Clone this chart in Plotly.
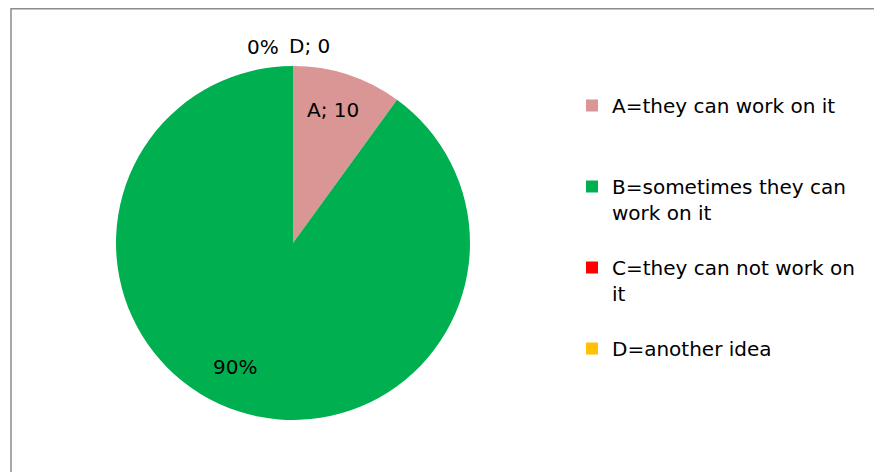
import plotly.graph_objects as go

labels = ["A", "B", "C", "D"]
legend_names = [
    "A=they can work on it",
    "B=sometimes they can<br>work on it",
    "C=they can not work on<br>it",
    "D=another idea",
]
values = [10, 90, 0, 0]
colors = ["#D99694", "#00B050", "#FF0000", "#FFC000"]

# the page body has an 8px margin, so the figure is 8px smaller than the window
OFF = 8
W, H = 882 - OFF, 472 - OFF
FONT = "DejaVu Sans"
total = sum(values)
pct = [round(v * 100 / total) for v in values]


def fx(px_):
    return (px_ - OFF) / W


def fy(py_):
    return 1 - (py_ - OFF) / H


# pad every legend entry to three lines so the entries are evenly spaced
def pad(name):
    n = name.count("<br>") + 1
    return name + "<br> " * (3 - n)


fig = go.Figure(
    go.Pie(
        labels=[pad(n) for n in legend_names],
        values=values,
        marker=dict(colors=colors),
        sort=False,
        direction="clockwise",
        rotation=0,
        textinfo="none",
        hoverinfo="label+value+percent",
        domain=dict(x=[fx(116), fx(470)], y=[fy(420), fy(66)]),
    )
)

# data labels, placed like the original (Excel-style)
label_text = [
    (f"{labels[0]}; {values[0]}", 333, 110),
    (f"{pct[1]}%", 235, 367),
    (f"{pct[3]}%", 263, 47),
    (f"{labels[3]}; {values[3]}", 309, 46),
]
for txt, px_, py_ in label_text:
    fig.add_annotation(
        text=txt, x=fx(px_), y=fy(py_), xref="paper", yref="paper",
        xanchor="center", yanchor="middle",
        showarrow=False, font=dict(size=20, color="#000000", family=FONT),
    )

# chart area border
fig.add_shape(
    type="rect", xref="paper", yref="paper",
    x0=fx(11), x1=1.02, y0=-0.02, y1=1 - 0.75 / H,
    line=dict(color="#8C8C8C", width=1.5),
)

fig.update_layout(
    width=W, height=H,
    margin=dict(l=0, r=0, t=0, b=0),
    paper_bgcolor="white",
    plot_bgcolor="white",
    font=dict(family=FONT, size=20, color="#000000"),
    showlegend=True,
    legend=dict(
        x=fx(572), xanchor="left",
        y=fy(86), yanchor="top",
        valign="top",
        font=dict(size=20, family=FONT, color="#000000"),
        traceorder="normal",
        bgcolor="rgba(0,0,0,0)",
    ),
)

fig.write_html("out.html")
